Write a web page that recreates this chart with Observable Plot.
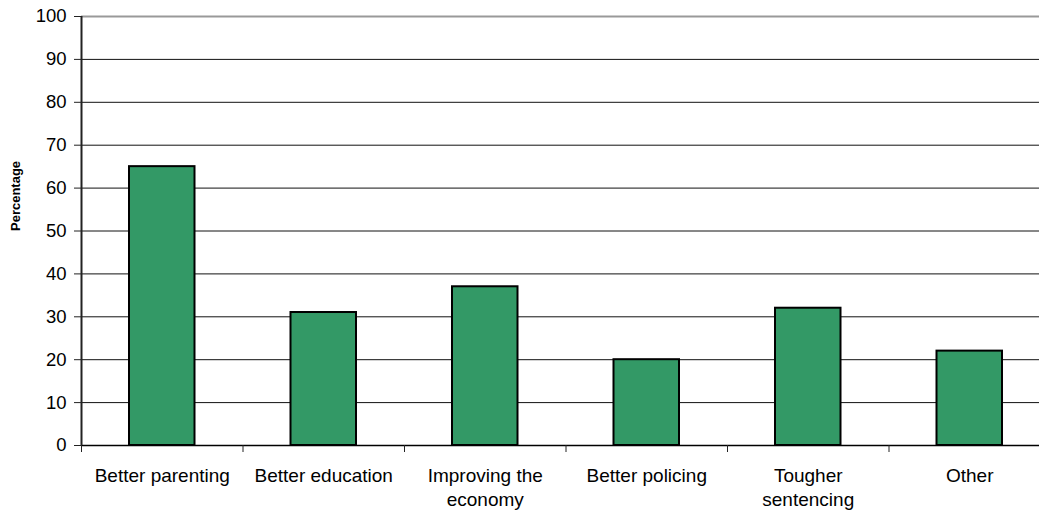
<!DOCTYPE html>
<html>
<head>
<meta charset="utf-8">
<script src="https://cdn.jsdelivr.net/npm/d3@7"></script>
<script src="https://cdn.jsdelivr.net/npm/@observablehq/plot@0.6"></script>
<style>
  html, body { margin: 0; padding: 0; background: #fff; overflow: hidden; }
</style>
</head>
<body>
<div id="chart"></div>
<script>
const categories = ["Better parenting", "Better education", "Improving the economy", "Better policing", "Tougher sentencing", "Other"];
const categoryLabels = ["Better parenting", "Better education", "Improving the\neconomy", "Better policing", "Tougher\nsentencing", "Other"];
const values = [65, 31, 37, 20, 32, 22];
const yTicks = [0, 10, 20, 30, 40, 50, 60, 70, 80, 90, 100];
const gridTicks = [10, 20, 30, 40, 50, 60, 70, 80, 90];
const yLabel = "Percentage";

const data = categories.map((c, i) => ({category: c, label: categoryLabels[i], value: values[i], i}));
const boundaries = d3.range(0, categories.length + 1);

const chart = Plot.plot({
  width: 1039,
  height: 510,
  marginLeft: 81,
  marginTop: 16,
  marginBottom: 65,
  marginRight: 0,
  style: {fontFamily: "'Liberation Sans', Arial, sans-serif", color: "#000", background: "#fff"},
  x: {domain: [0, categories.length], range: [81, 1050], axis: null},
  y: {domain: [0, 100], axis: null},
  marks: [
    Plot.ruleY(gridTicks, {stroke: "#111", strokeWidth: 1}),
    Plot.ruleY([100], {stroke: "#999", strokeWidth: 2}),
    Plot.rectY(data, {x1: d => d.i, x2: d => d.i + 1, y1: 0, y2: "value", insetLeft: 48, insetRight: 48, fill: "#339966", stroke: "#000", strokeWidth: 2}),
    Plot.ruleY([0], {stroke: "#000", strokeWidth: 1.5}),
    Plot.ruleX([0], {stroke: "#222", strokeWidth: 2}),
    Plot.axisY({ticks: yTicks, tickSize: 7, tickPadding: 8, fontSize: 18.5, label: null, tickFormat: d => String(d), stroke: "#222"}),
    Plot.axisX({ticks: boundaries, tickSize: 7, tickFormat: () => "", label: null, stroke: "#222"}),
    Plot.text(data, {x: d => d.i + 0.5, frameAnchor: "bottom", dy: 20.5, lineAnchor: "top", text: "label", fontSize: 19, lineHeight: 1.22, fill: "#000"}),
    Plot.text([yLabel], {frameAnchor: "left", dx: -66, rotate: -90, text: d => d, fontSize: 13, fontWeight: "bold", fill: "#000"})
  ]
});
document.getElementById("chart").appendChild(chart);
</script>
</body>
</html>
